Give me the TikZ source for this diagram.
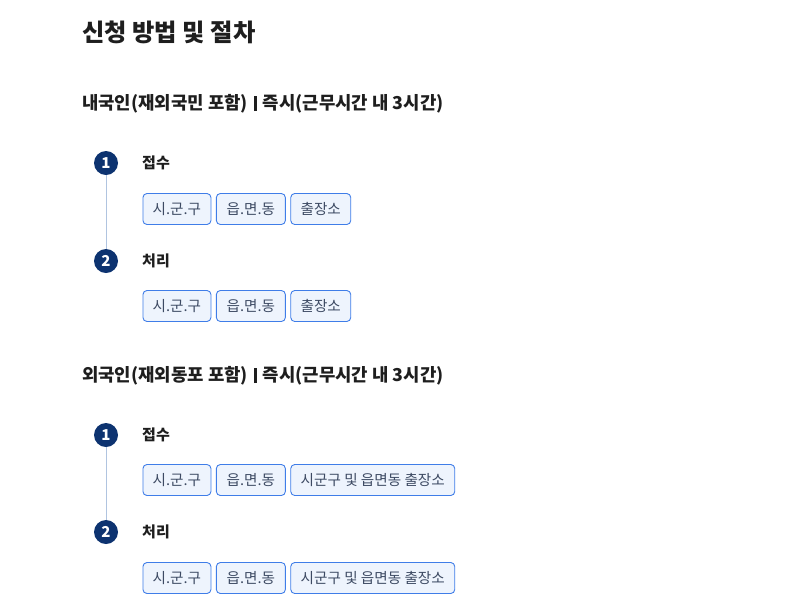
\documentclass[tikz,border=0pt]{standalone}
\usepackage{fontspec}
\setmainfont{Noto Sans CJK KR}
\usetikzlibrary{positioning}

\definecolor{navy}{HTML}{0D3370}
\definecolor{badgeline}{HTML}{3F7DE8}
\definecolor{badgefill}{HTML}{EEF4FD}
\definecolor{badgetext}{HTML}{3D4A63}
\definecolor{stepline}{HTML}{B0C4E0}
\definecolor{ink}{HTML}{1E1E1E}

\newcommand{\fs}[1]{\fontsize{#1}{#1}\selectfont}
\newcommand{\sepbar}{\hspace{6pt}\rule[-1.5pt]{3pt}{15pt}\hspace{6pt}}

\begin{document}
\begin{tikzpicture}[x=1pt,y=-1pt,
    title/.style={anchor=west, inner sep=0pt, text=ink, font=\bfseries\fs{24.3}},
    group/.style={anchor=west, inner sep=0pt, text=ink, font=\bfseries\fs{17.8}},
    stepnum/.style={circle, fill=navy, text=white, minimum size=24pt, inner sep=0pt, font=\bfseries\fs{15}},
    steplabel/.style={anchor=west, inner sep=0pt, text=ink, font=\bfseries\fs{15}},
    badge/.style={draw=badgeline, fill=badgefill, text=badgetext, rounded corners=4pt, line width=0.9pt,
        minimum height=31pt, inner xsep=0pt, align=center, font=\fs{14.6}},
    node distance=4.5pt]
    \useasboundingbox (0,0) rectangle (791,614);

    \node[title] (T) at (82,32) {신청 방법 및 절차};

    % 내국인
    \node[group] (G1) at (82,104) {내국인(재외국민 포함)\sepbar 즉시(근무시간 내 3시간)};
    \node[stepnum] (A1) at (106,163) {1};
    \node[steplabel] (A1t) at (142,163) {접수};
    \node[badge, minimum width=68pt, anchor=west] (A1a) at (142.5,209) {시.군.구};
    \node[badge, minimum width=69pt, right=of A1a] (A1b) {읍.면.동};
    \node[badge, minimum width=60pt, right=of A1b] (A1c) {출장소};
    \node[stepnum] (A2) at (106,261) {2};
    \node[steplabel] (A2t) at (142,261) {처리};
    \node[badge, minimum width=68pt, anchor=west] (A2a) at (142.5,306) {시.군.구};
    \node[badge, minimum width=69pt, right=of A2a] (A2b) {읍.면.동};
    \node[badge, minimum width=60pt, right=of A2b] (A2c) {출장소};
    \draw[stepline, line width=1pt] (A1) -- (A2);

    % 외국인
    \node[group] (G2) at (82,376) {외국인(재외동포 포함)\sepbar 즉시(근무시간 내 3시간)};
    \node[stepnum] (B1) at (106,435) {1};
    \node[steplabel] (B1t) at (142,435) {접수};
    \node[badge, minimum width=68pt, anchor=west] (B1a) at (142.5,480) {시.군.구};
    \node[badge, minimum width=69pt, right=of B1a] (B1b) {읍.면.동};
    \node[badge, minimum width=164pt, right=of B1b] (B1c) {시군구 및 읍면동 출장소};
    \node[stepnum] (B2) at (106,532) {2};
    \node[steplabel] (B2t) at (142,532) {처리};
    \node[badge, minimum width=68pt, anchor=west] (B2a) at (142.5,578) {시.군.구};
    \node[badge, minimum width=69pt, right=of B2a] (B2b) {읍.면.동};
    \node[badge, minimum width=164pt, right=of B2b] (B2c) {시군구 및 읍면동 출장소};
    \draw[stepline, line width=1pt] (B1) -- (B2);
\end{tikzpicture}
\end{document}
